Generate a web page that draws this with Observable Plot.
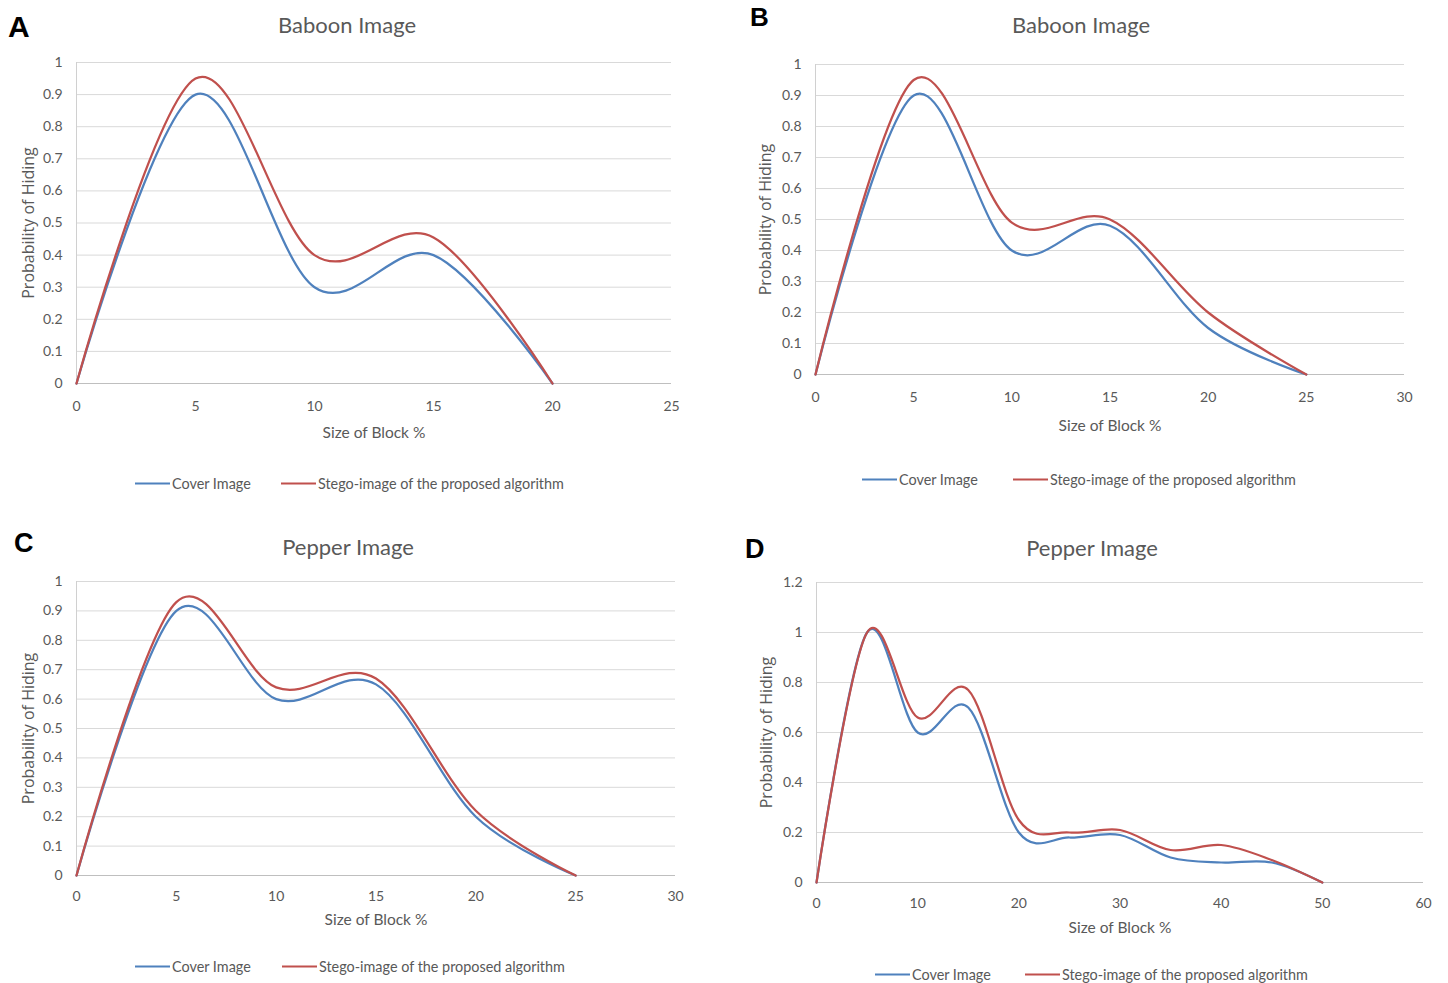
<!DOCTYPE html>
<html><head><meta charset="utf-8">
<script src="https://cdn.jsdelivr.net/npm/d3@7"></script>
<script src="https://cdn.jsdelivr.net/npm/@observablehq/plot@0.6"></script>
<style>
body{margin:0;background:#fff;}
#root{position:relative;width:1448px;height:983px;overflow:hidden;background:#fff;font-family:Lato,"Open Sans",sans-serif;color:#595959;}
.abs{position:absolute;}
.title{font-size:22px;transform:translate(-50%,-50%);white-space:nowrap;}
.letter{font-family:"Liberation Sans",Arial,sans-serif;font-weight:bold;color:#000;transform:translateY(-50%);line-height:1;}
.leg{display:flex;align-items:center;font-size:14.4px;transform:translateY(-50%);white-space:nowrap;}
.sw{display:inline-block;width:35px;border-top:2.5px solid;margin-right:2px;}
</style></head>
<body><div id="root"></div>
<script>
// ---- data ----
const seriesNames = ["Cover Image", "Stego-image of the proposed algorithm"];
const xAxisLabel = "Size of Block %";
const yAxisLabel = "Probability of Hiding";

const titleA = "Baboon Image";
const xA = [0, 5, 10, 15, 20];
const coverA = [0, 0.9, 0.3, 0.4, 0];
const stegoA = [0, 0.95, 0.4, 0.455, 0];
const xTicksA = [0, 5, 10, 15, 20, 25];
const yTicksA = [0, 0.1, 0.2, 0.3, 0.4, 0.5, 0.6, 0.7, 0.8, 0.9, 1];

const titleB = "Baboon Image";
const xB = [0, 5, 10, 15, 20, 25];
const coverB = [0, 0.9, 0.4, 0.48, 0.15, 0];
const stegoB = [0, 0.95, 0.49, 0.5, 0.2, 0];
const xTicksB = [0, 5, 10, 15, 20, 25, 30];
const yTicksB = [0, 0.1, 0.2, 0.3, 0.4, 0.5, 0.6, 0.7, 0.8, 0.9, 1];

const titleC = "Pepper Image";
const xC = [0, 5, 10, 15, 20, 25];
const coverC = [0, 0.9, 0.6, 0.65, 0.2, 0];
const stegoC = [0, 0.93, 0.64, 0.67, 0.22, 0];
const xTicksC = [0, 5, 10, 15, 20, 25, 30];
const yTicksC = [0, 0.1, 0.2, 0.3, 0.4, 0.5, 0.6, 0.7, 0.8, 0.9, 1];

const titleD = "Pepper Image";
const xD = [0, 5, 10, 15, 20, 25, 30, 35, 40, 45, 50];
const coverD = [0, 1.0, 0.6, 0.7, 0.2, 0.18, 0.19, 0.1, 0.08, 0.08, 0];
const stegoD = [0, 1.0, 0.66, 0.77, 0.25, 0.2, 0.21, 0.13, 0.15, 0.09, 0];
const xTicksD = [0, 10, 20, 30, 40, 50, 60];
const yTicksD = [0, 0.2, 0.4, 0.6, 0.8, 1, 1.2];

const colors = ["#4F81BD", "#C0504D"];

// ---- layout ----
const panels = [
  {letter:"A", title:titleA, x:xA, cover:coverA, stego:stegoA, xTicks:xTicksA, yTicks:yTicksA,
   left:0, top:40, width:720, height:420, ml:76, mr:49, mt:22, mb:77, tp:18, xl:50, yl:-48,
   tx:347, ty:24, lx:8, ly:27, ls:30, legY:483, leg1:135, leg2:281},
  {letter:"B", title:titleB, x:xB, cover:coverB, stego:stegoB, xTicks:xTicksB, yTicks:yTicksB,
   left:728, top:40, width:720, height:410, ml:87, mr:44, mt:24, mb:76, tp:18, xl:52, yl:-50,
   tx:1081, ty:24, lx:750, ly:17, ls:26, legY:479, leg1:862, leg2:1013},
  {letter:"C", title:titleC, x:xC, cover:coverC, stego:stegoC, xTicks:xTicksC, yTicks:yTicksC,
   left:0, top:560, width:720, height:380, ml:76, mr:45, mt:21, mb:65, tp:16, xl:45, yl:-48,
   tx:348, ty:546, lx:14, ly:543, ls:27, legY:966, leg1:135, leg2:282},
  {letter:"D", title:titleD, x:xD, cover:coverD, stego:stegoD, xTicks:xTicksD, yTicks:yTicksD,
   left:728, top:560, width:720, height:390, ml:88, mr:25, mt:22, mb:68, tp:16, xl:46, yl:-50,
   tx:1092, ty:547, lx:745, ly:549, ls:27, legY:974, leg1:875, leg2:1025}
];

const root = document.getElementById("root");
function el(cls, text, style) {
  const d = document.createElement("div");
  d.className = "abs " + cls;
  if (text != null) d.textContent = text;
  Object.assign(d.style, style);
  root.appendChild(d);
  return d;
}

for (const p of panels) {
  const xMax = p.xTicks[p.xTicks.length - 1];
  const yMax = p.yTicks[p.yTicks.length - 1];
  const chart = Plot.plot({
    width: p.width, height: p.height,
    marginLeft: p.ml, marginRight: p.mr, marginTop: p.mt, marginBottom: p.mb,
    style: {fontSize: "14px", fontFamily: "Lato, 'Open Sans', sans-serif", color: "#595959", background: "transparent", overflow: "visible"},
    x: {domain: [0, xMax], ticks: p.xTicks, tickSize: 0, tickPadding: p.tp, label: null, tickFormat: d => String(d)},
    y: {domain: [0, yMax], ticks: p.yTicks, tickSize: 0, tickPadding: 14, label: null, tickFormat: d => String(d)},
    marks: [
      Plot.ruleY(p.yTicks.filter(d => d > 0), {stroke: "#d9d9d9", strokeWidth: 1}),
      Plot.ruleX([0], {stroke: "#d0d0d0", strokeWidth: 1}),
      Plot.ruleY([0], {stroke: "#bfbfbf", strokeWidth: 1}),
      Plot.line(p.cover, {x: p.x, y: p.cover, stroke: colors[0], strokeWidth: 2.25, curve: "cardinal"}),
      Plot.line(p.stego, {x: p.x, y: p.stego, stroke: colors[1], strokeWidth: 2.25, curve: "cardinal"}),
      Plot.text([xAxisLabel], {frameAnchor: "bottom", dy: p.xl, lineAnchor: "middle", textAnchor: "middle", fontSize: 15.5, fill: "#595959"}),
      Plot.text([yAxisLabel], {frameAnchor: "left", dx: p.yl, rotate: -90, lineAnchor: "middle", textAnchor: "middle", fontSize: 16, fontFamily: "'Open Sans', sans-serif", fill: "#595959"})
    ]
  });
  chart.style.position = "absolute";
  chart.style.left = p.left + "px";
  chart.style.top = p.top + "px";
  root.appendChild(chart);

  el("title", p.title, {left: p.tx + "px", top: p.ty + "px"});
  el("letter", p.letter, {left: p.lx + "px", top: p.ly + "px", fontSize: p.ls + "px"});

  [p.leg1, p.leg2].forEach((lx, i) => {
    const d = el("leg", null, {left: lx + "px", top: p.legY + "px"});
    const sw = document.createElement("span");
    sw.className = "sw";
    sw.style.borderTopColor = colors[i];
    d.appendChild(sw);
    const t = document.createElement("span");
    t.textContent = seriesNames[i];
    d.appendChild(t);
  });
}
</script>
</body></html>
